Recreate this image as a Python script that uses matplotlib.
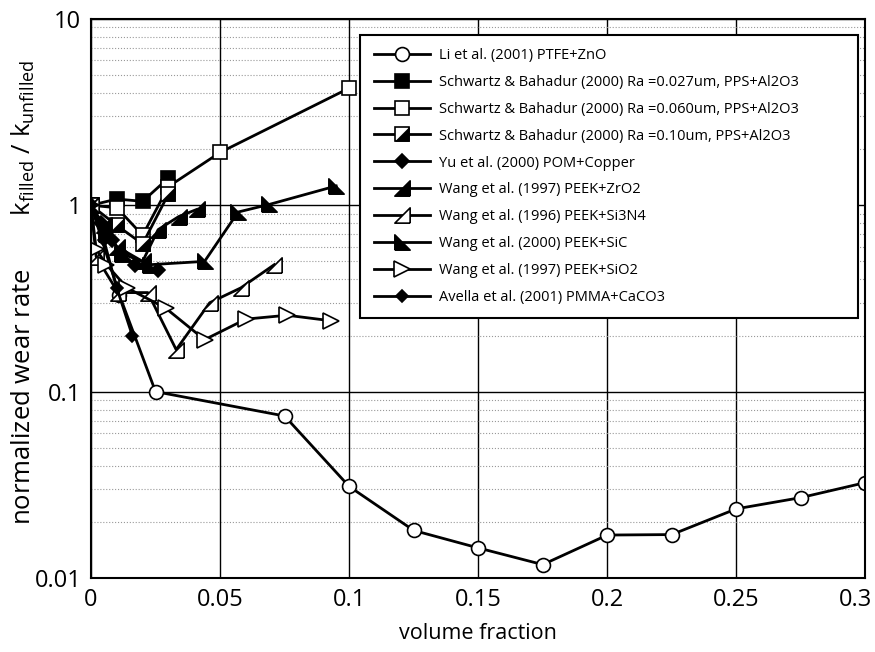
import matplotlib
matplotlib.use("Agg")
import matplotlib.pyplot as plt
import matplotlib.transforms as mtransforms
from matplotlib.ticker import FixedLocator, FixedFormatter, NullFormatter, LogLocator
from matplotlib.legend_handler import HandlerTuple

plt.rcParams['font.family'] = ['Open Sans', 'DejaVu Sans']
plt.rcParams['mathtext.fontset'] = 'custom'
plt.rcParams['mathtext.rm'] = 'Open Sans'
plt.rcParams['mathtext.it'] = 'Open Sans'

# ---- data ----
li_x = [0, 0.011, 0.025, 0.075, 0.1, 0.125, 0.15, 0.175, 0.2, 0.225, 0.25, 0.275, 0.3]
li_y = [1, 0.33, 0.1, 0.074, 0.031, 0.018, 0.0145, 0.0118, 0.017, 0.0171, 0.0235, 0.027, 0.0325]

sb027_x = [0, 0.01, 0.02, 0.03]
sb027_y = [1, 1.08, 1.05, 1.4]

sb060_x = [0, 0.01, 0.02, 0.03, 0.05, 0.1]
sb060_y = [1, 0.97, 0.69, 1.26, 1.92, 4.25]

sb10_x = [0, 0.01, 0.02, 0.03]
sb10_y = [1, 0.78, 0.62, 1.15]

yu_x = [0, 0.004, 0.008, 0.012, 0.017, 0.026]
yu_y = [1, 0.8, 0.65, 0.55, 0.48, 0.45]

zro2_x = [0, 0.005, 0.01, 0.02, 0.026, 0.034, 0.041]
zro2_y = [1, 0.78, 0.6, 0.5, 0.74, 0.87, 0.95]

si3n4_x = [0, 0.002, 0.0105, 0.022, 0.033, 0.046, 0.058, 0.071]
si3n4_y = [1, 0.53, 0.34, 0.34, 0.168, 0.30, 0.36, 0.48]

sic_x = [0, 0.006, 0.012, 0.023, 0.044, 0.057, 0.069, 0.095]
sic_y = [1, 0.7, 0.55, 0.48, 0.5, 0.92, 1.01, 1.27]

sio2_x = [0, 0.002, 0.006, 0.014, 0.029, 0.044, 0.06, 0.076, 0.093]
sio2_y = [1, 0.58, 0.48, 0.36, 0.28, 0.19, 0.245, 0.257, 0.24]

avella_x = [0, 0.005, 0.01, 0.016]
avella_y = [1, 0.65, 0.36, 0.2]

labels = ["Li et al. (2001) PTFE+ZnO",
          "Schwartz & Bahadur (2000) Ra =0.027um, PPS+Al2O3",
          "Schwartz & Bahadur (2000) Ra =0.060um, PPS+Al2O3",
          "Schwartz & Bahadur (2000) Ra =0.10um, PPS+Al2O3",
          "Yu et al. (2000) POM+Copper",
          "Wang et al. (1997) PEEK+ZrO2",
          "Wang et al. (1996) PEEK+Si3N4",
          "Wang et al. (2000) PEEK+SiC",
          "Wang et al. (1997) PEEK+SiO2",
          "Avella et al. (2001) PMMA+CaCO3"]

xticks = [0, 0.05, 0.1, 0.15, 0.2, 0.25, 0.3]
xticklabels = ["0", "0.05", "0.1", "0.15", "0.2", "0.25", "0.3"]
yticks = [0.01, 0.1, 1, 10]
yticklabels = ["0.01", "0.1", "1", "10"]

# custom right-triangle markers
tri_br = [(1, -1), (1, 1), (-1, -1), (1, -1)]    # right angle bottom-right
tri_bl = [(-1, -1), (-1, 1), (1, -1), (-1, -1)]  # right angle bottom-left

fig = plt.figure(figsize=(8.75, 6.52), dpi=100)
ax = fig.add_axes([0.104, 0.1135, 0.885, 0.8575])

lw = 2.0
common = dict(color='black', lw=lw, mec='black', mew=1.2)
h = []
h.append(ax.plot(li_x, li_y, marker='o', ms=10, mfc='white', **common)[0])
h.append(ax.plot(sb027_x, sb027_y, marker='s', ms=10, mfc='black', **common)[0])
h.append(ax.plot(sb060_x, sb060_y, marker='s', ms=10, mfc='white', **common)[0])
# half filled square: open square + filled lower-right triangle on top
sq = ax.plot(sb10_x, sb10_y, marker='s', ms=10, mfc='white', **common)[0]
half = ax.plot(sb10_x, sb10_y, ls='none', marker=tri_br, ms=10, mfc='black',
               mec='black', mew=0.5)[0]
h.append((sq, half))
h.append(ax.plot(yu_x, yu_y, marker='D', ms=7, mfc='black', **common)[0])
h.append(ax.plot(zro2_x, zro2_y, marker=tri_br, ms=11, mfc='black', **common)[0])
h.append(ax.plot(si3n4_x, si3n4_y, marker=tri_br, ms=11, mfc='white', **common)[0])
h.append(ax.plot(sic_x, sic_y, marker=tri_bl, ms=11, mfc='black', **common)[0])
h.append(ax.plot(sio2_x, sio2_y, marker='>', ms=11, mfc='white', **common)[0])
h.append(ax.plot(avella_x, avella_y, marker='D', ms=6, mfc='black', **common)[0])

ax.set_yscale('log')
ax.set_xlim(0, 0.3)
ax.set_ylim(0.01, 10)
ax.xaxis.set_major_locator(FixedLocator(xticks))
ax.xaxis.set_major_formatter(FixedFormatter(xticklabels))
ax.yaxis.set_major_locator(FixedLocator(yticks))
ax.yaxis.set_major_formatter(FixedFormatter(yticklabels))
ax.yaxis.set_minor_locator(LogLocator(base=10, subs=range(2, 10)))
ax.yaxis.set_minor_formatter(NullFormatter())
ax.tick_params(which='both', length=0, labelsize=17, pad=7)

ax.set_axisbelow(True)
ax.grid(which='major', axis='both', color='black', lw=1.0, ls='-')
ax.grid(which='minor', axis='y', color='#999999', lw=0.8, ls=':')
for s in ax.spines.values():
    s.set_linewidth(1.5)

# keep the last x label inside the figure
last = ax.get_xticklabels()[-1]
last.set_transform(last.get_transform() +
                   mtransforms.ScaledTranslation(-10 / 100, 0, fig.dpi_scale_trans))

ax.set_xlabel("volume fraction", fontsize=15.5, labelpad=8)
fig.text(0.027, 0.552,
         r"normalized wear rate        k$_{\mathrm{filled}}$ / k$_{\mathrm{unfilled}}$",
         fontsize=18.5, rotation=90, ha='center', va='center')

leg = ax.legend(h, labels, loc='upper left',
                bbox_to_anchor=(0.348, 0.458, 0.643, 0.514), mode='expand',
                fontsize=10.5, frameon=True, fancybox=False, edgecolor='black',
                framealpha=1, handlelength=3.9, labelspacing=0.82, borderpad=0.9,
                handletextpad=0.6, borderaxespad=0,
                handler_map={tuple: HandlerTuple(ndivide=1, pad=0)})
leg.get_frame().set_linewidth(1.5)

fig.savefig("out.png", dpi=100)
